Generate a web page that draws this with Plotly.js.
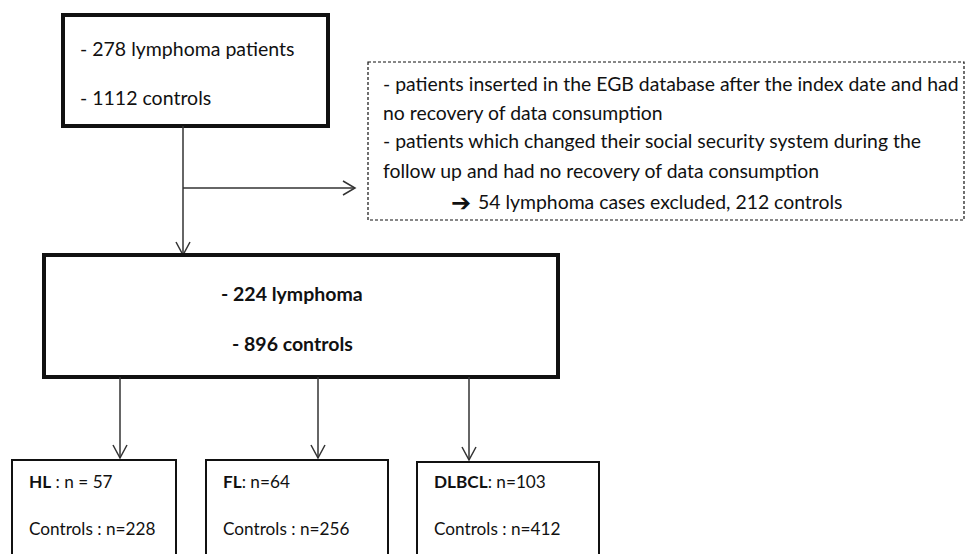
<!DOCTYPE html>
<html>
<head>
<meta charset="utf-8">
<script src="https://cdn.plot.ly/plotly-3.0.1.min.js"></script>
<style>html,body{margin:0;padding:0;background:#fff;}#chart{width:965px;height:554px;}</style>
</head>
<body>
<div id="chart"></div>
<script>
// ---- data ----
const initialCounts = [278, 1112];           // lymphoma patients, controls
const initialLabels = ["lymphoma patients", "controls"];
const exclusionReasons = [
  "- patients inserted in the EGB database after the index date and had",
  "no recovery of data consumption",
  "- patients which changed their social security system during the",
  "follow up and had no recovery of data consumption"
];
const excludedCounts = [54, 212];            // lymphoma cases excluded, controls
const retainedCounts = [224, 896];           // lymphoma, controls
const retainedLabels = ["lymphoma", "controls"];
const subtypes = ["HL", "FL", "DLBCL"];
const subtypeSep = [" : n = ", ": n=", ": n="];
const subtypeCases = [57, 64, 103];
const subtypeControls = [228, 256, 412];

// ---- layout ----
const FONT = "Lato, 'DejaVu Sans', sans-serif";
const BOX = "#111";
const LINK = "#333";
const shapes = [];
const annotations = [];

function rect(x0, y0, x1, y1, w, dash) {
  shapes.push({type: "rect", xref: "x", yref: "y", x0, y0, x1, y1,
    line: {color: BOX, width: w, dash: dash || "solid"}, fillcolor: "rgba(0,0,0,0)"});
}
function seg(x0, y0, x1, y1) {
  shapes.push({type: "line", xref: "x", yref: "y", x0, y0, x1, y1, line: {color: LINK, width: 1.5}});
}
function downArrow(x, y0, y1) {
  seg(x, y0, x, y1);
  shapes.push({type: "path", xref: "x", yref: "y",
    path: `M ${x - 7} ${y1 - 13} L ${x} ${y1} L ${x + 7} ${y1 - 13}`,
    line: {color: LINK, width: 1.5}});
}
function rightArrow(x0, x1, y) {
  seg(x0, y, x1, y);
  shapes.push({type: "path", xref: "x", yref: "y",
    path: `M ${x1 - 12} ${y - 7} L ${x1} ${y} L ${x1 - 12} ${y + 7}`,
    line: {color: LINK, width: 1.5}});
}
function txt(x, y, text, size, anchor) {
  annotations.push({xref: "x", yref: "y", x, y, text, showarrow: false,
    xanchor: anchor || "left", yanchor: "middle",
    font: {family: FONT, size, color: "#111"}});
}

// top box
rect(63, 15, 328, 126, 4);
txt(78, 48, `- ${initialCounts[0]} ${initialLabels[0]}`, 19.5);
txt(78, 97, `- ${initialCounts[1]} ${initialLabels[1]}`, 19.5);

// connector + exclusion arrow
downArrow(183, 126, 255);
rightArrow(183, 355, 188);

// exclusion box
rect(368, 62, 964, 220, 1.2, "3px,2px");
const exY = [83, 112, 140, 170];
exclusionReasons.forEach((t, i) => txt(381, exY[i], t, 19.4));
txt(449, 201, `<span style="font-size:24px;font-weight:bold">\u2794</span>`, 19.4);
txt(476, 201, `${excludedCounts[0]} lymphoma cases excluded, ${excludedCounts[1]} controls`, 19.4);

// main box
rect(44, 255, 558, 377, 4);
txt(292, 293, `<b>- ${retainedCounts[0]} ${retainedLabels[0]}</b>`, 19.5, "center");
txt(292, 343, `<b>- ${retainedCounts[1]} ${retainedLabels[1]}</b>`, 19.5, "center");

// subgroup boxes
const subX = [[12, 176], [206, 388], [417, 599]];
const arrowX = [120, 318, 469];
const topY = [460, 460, 462];
subtypes.forEach((s, i) => {
  downArrow(arrowX[i], 377, topY[i] - 2);
  rect(subX[i][0], topY[i], subX[i][1], 620, 2);
  txt(subX[i][0] + 15, 481, `<b>${s}</b>${subtypeSep[i]}${subtypeCases[i]}`, 17.2);
  txt(subX[i][0] + 15, 528, `Controls : n=${subtypeControls[i]}`, 17.2);
});

const layout = {
  width: 965, height: 554,
  margin: {l: 0, r: 0, t: 0, b: 0, pad: 0},
  paper_bgcolor: "#fff", plot_bgcolor: "#fff",
  showlegend: false,
  xaxis: {range: [0, 965], visible: false, fixedrange: true},
  yaxis: {range: [554, 0], visible: false, fixedrange: true},
  shapes, annotations
};
Plotly.newPlot("chart", [{type: "scatter", x: [], y: [], mode: "markers"}], layout, {staticPlot: true});
</script>
</body>
</html>
